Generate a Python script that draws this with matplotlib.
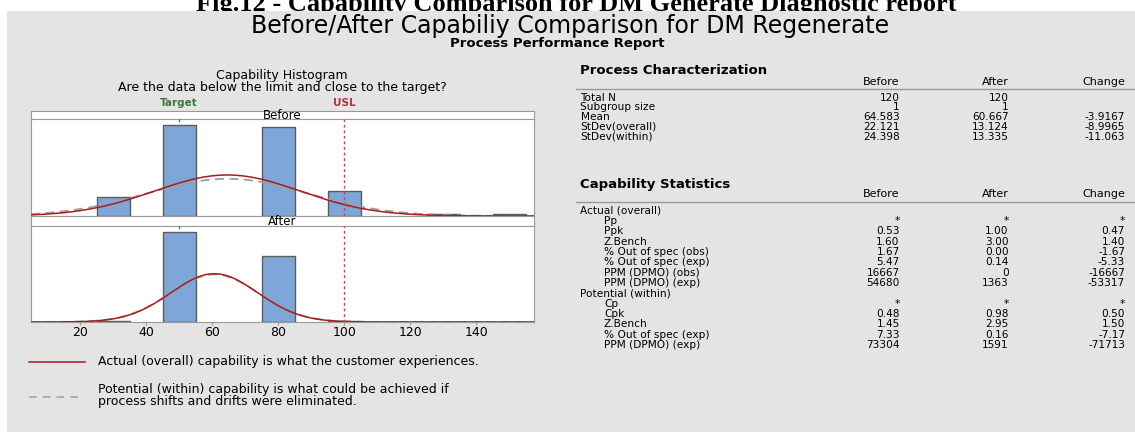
import numpy as np
import matplotlib
matplotlib.use("Agg")
from matplotlib import pyplot as plt
from matplotlib.patches import Rectangle
from matplotlib import transforms

# du lieu doc tu hinh
bin_centers_before = [30, 50, 80, 100, 130, 150]
counts_before = [10, 48, 47, 13, 1, 1]
bin_centers_after = [30, 50, 80, 100]
counts_after = [1, 68, 50, 1]
bin_width = 10
n_total = 120
mean_before, sd_overall_before, sd_within_before = 64.583, 22.121, 24.398
mean_after, sd_overall_after, sd_within_after = 60.667, 13.124, 13.335
target = 50
usl = 100
xticks = [20, 40, 60, 80, 100, 120, 140]

col_headers = ["Before", "After", "Change"]
pc_labels = ["Total N", "Subgroup size", "Mean", "StDev(overall)", "StDev(within)"]
pc_before = ["120", "1", "64.583", "22.121", "24.398"]
pc_after = ["120", "1", "60.667", "13.124", "13.335"]
pc_change = ["", "", "-3.9167", "-8.9965", "-11.063"]

cs_labels = ["Actual (overall)", "Pp", "Ppk", "Z.Bench", "% Out of spec (obs)", "% Out of spec (exp)",
             "PPM (DPMO) (obs)", "PPM (DPMO) (exp)", "Potential (within)", "Cp", "Cpk", "Z.Bench",
             "% Out of spec (exp)", "PPM (DPMO) (exp)"]
cs_indent = [0, 1, 1, 1, 1, 1, 1, 1, 0, 1, 1, 1, 1, 1]
cs_before = ["", "*", "0.53", "1.60", "1.67", "5.47", "16667", "54680", "", "*", "0.48", "1.45", "7.33", "73304"]
cs_after = ["", "*", "1.00", "3.00", "0.00", "0.14", "0", "1363", "", "*", "0.98", "2.95", "0.16", "1591"]
cs_change = ["", "*", "0.47", "1.40", "-1.67", "-5.33", "-16667", "-53317", "", "*", "0.50", "1.50", "-7.17", "-71713"]

W, H = 1135, 432
fig = plt.figure(figsize=(W / 100, H / 100), dpi=100)
fig.patch.set_facecolor("white")

def fx(x):
    return x / W

def fy(y):
    return 1 - y / H

def box(x0, y0, x1, y1):
    return [fx(x0), fy(y1), fx(x1) - fx(x0), (y1 - y0) / H]

def txt(x, y, s, **kw):
    fig.text(fx(x), fy(y), s, **kw)

# nen xam (nam tren dong chu thich o tren cung)
fig.add_artist(Rectangle((fx(7), 0), 1 - fx(7), fy(11), transform=fig.transFigure,
                         facecolor="#e4e4e4", edgecolor="none", zorder=2))

# tieu de
fig.text(fx(576), fy(11), "Fig.12 - Capability Comparison for DM Generate Diagnostic report", ha="center",
         va="baseline", fontsize=19, fontweight="bold", family="Liberation Serif", zorder=1)
txt(570, 26, "Before/After Capabiliy Comparison for DM Regenerate", ha="center", va="center", fontsize=17, zorder=3)
txt(557, 43.5, "Process Performance Report", ha="center", va="center", fontsize=9.5, fontweight="bold", zorder=3)

# tieu de histogram
sfs = 9
txt(282, 76, "Capability Histogram", ha="center", va="center", fontsize=sfs, zorder=3)
txt(282, 87, "Are the data below the limit and close to the target?", ha="center", va="center", fontsize=sfs,
    zorder=3)

spine_col = "#9a9a9a"
xlim = (5.1, 157.6)
L, R = 30.9, 534.4

def strip(y0, y1, label):
    ax = fig.add_axes(box(L, y0, R, y1))
    ax.set_zorder(3)
    ax.set_xticks([]); ax.set_yticks([])
    for s in ax.spines.values():
        s.set_color(spine_col)
    ax.text(0.5, 0.45, label, ha="center", va="center", fontsize=sfs - 0.5, transform=ax.transAxes)
    return ax

def hist_panel(y0, y1, centers, counts, mean, sd_o, sd_w, show_ticks):
    ax = fig.add_axes(box(L, y0, R, y1))
    ax.set_zorder(3)
    ax.bar(centers, counts, width=bin_width, color="#7ea6d8", edgecolor="#5c5c5c", linewidth=1.0, zorder=2)
    xs = np.linspace(xlim[0], xlim[1], 400)
    scale = n_total * bin_width
    pdf_w = scale * np.exp(-0.5 * ((xs - mean) / sd_w) ** 2) / (sd_w * np.sqrt(2 * np.pi))
    pdf_o = scale * np.exp(-0.5 * ((xs - mean) / sd_o) ** 2) / (sd_o * np.sqrt(2 * np.pi))
    ax.plot(xs, pdf_w, color="#a0a0a0", lw=1.3, ls=(0, (5, 3)), zorder=3)
    ax.plot(xs, pdf_o, color="#a81c1c", lw=1.1, zorder=4)
    ax.axvline(usl, color="#e03a3a", lw=1.0, ls=(0, (2, 2)), zorder=5)
    ax.axvline(target, ymin=0.975, ymax=1.0, color="#2e9a2e", lw=1.0, zorder=5)
    ax.set_xlim(*xlim)
    ax.set_ylim(0, max(counts) * 1.066)
    ax.set_yticks([])
    for s in ax.spines.values():
        s.set_color(spine_col)
    if show_ticks:
        ax.set_xticks(xticks)
        ax.tick_params(axis="x", length=2, color=spine_col, labelsize=9, pad=1)
    else:
        ax.set_xticks([])
    return ax

strip(110.7, 119, "Before")
ax_b = hist_panel(119, 216, bin_centers_before, counts_before, mean_before, sd_overall_before, sd_within_before, False)
strip(216, 226, "After")
ax_a = hist_panel(226, 322, bin_centers_after, counts_after, mean_after, sd_overall_after, sd_within_after, True)

# nhan Target va USL
tr = transforms.blended_transform_factory(ax_b.transData, fig.transFigure)
fig.text(target, fy(103.5), "Target", transform=tr, ha="center", va="center",
         fontsize=7.5, color="#3b7a3b", fontweight="bold", zorder=3)
fig.text(usl, fy(103.5), "USL", transform=tr, ha="center", va="center",
         fontsize=7.5, color="#b03040", fontweight="bold", zorder=3)

# chu thich
fig.add_artist(plt.Line2D([fx(29), fx(85)], [fy(361.5), fy(361.5)], color="#a81c1c", lw=1.1,
                          transform=fig.transFigure, zorder=3))
txt(97.5, 361, "Actual (overall) capability is what the customer experiences.", va="center", fontsize=sfs,
    zorder=3)
fig.add_artist(plt.Line2D([fx(29), fx(80)], [fy(396.5), fy(396.5)], color="#a0a0a0", lw=1.1,
                          ls=(0, (5, 4)), transform=fig.transFigure, zorder=3))
txt(97.5, 390, "Potential (within) capability is what could be achieved if", va="center", fontsize=sfs, zorder=3)
txt(97.5, 401, "process shifts and drifts were eliminated.", va="center", fontsize=sfs, zorder=3)

# bang ben phai
col_x = [899.7, 1008.6, 1125]
lab_x, ind_x = 580.5, 604
tfs = 7.6

def table(head_y, line_y, row_y0, step, labels, indents, cols):
    for cx, h in zip(col_x, col_headers):
        txt(cx, head_y, h, ha="right", va="center", fontsize=tfs + 0.4, zorder=3)
    fig.add_artist(plt.Line2D([fx(576), fx(1135)], [fy(line_y), fy(line_y)], color="#9a9a9a", lw=1.0,
                              transform=fig.transFigure, zorder=3))
    for i, lab in enumerate(labels):
        y = row_y0 + i * step
        txt(ind_x if indents[i] else lab_x, y, lab, va="center", fontsize=tfs, zorder=3)
        for cx, col in zip(col_x, cols):
            txt(cx, y, col[i], ha="right", va="center", fontsize=tfs, zorder=3)

txt(lab_x, 71, "Process Characterization", va="center", fontsize=9.5, fontweight="bold", zorder=3)
table(81.7, 89.3, 97.7, 9.75, pc_labels, [0] * len(pc_labels), [pc_before, pc_after, pc_change])
txt(lab_x, 185, "Capability Statistics", va="center", fontsize=9.5, fontweight="bold", zorder=3)
table(194.3, 202.3, 210.7, 10.33, cs_labels, cs_indent, [cs_before, cs_after, cs_change])

fig.savefig("out.png", dpi=100)
